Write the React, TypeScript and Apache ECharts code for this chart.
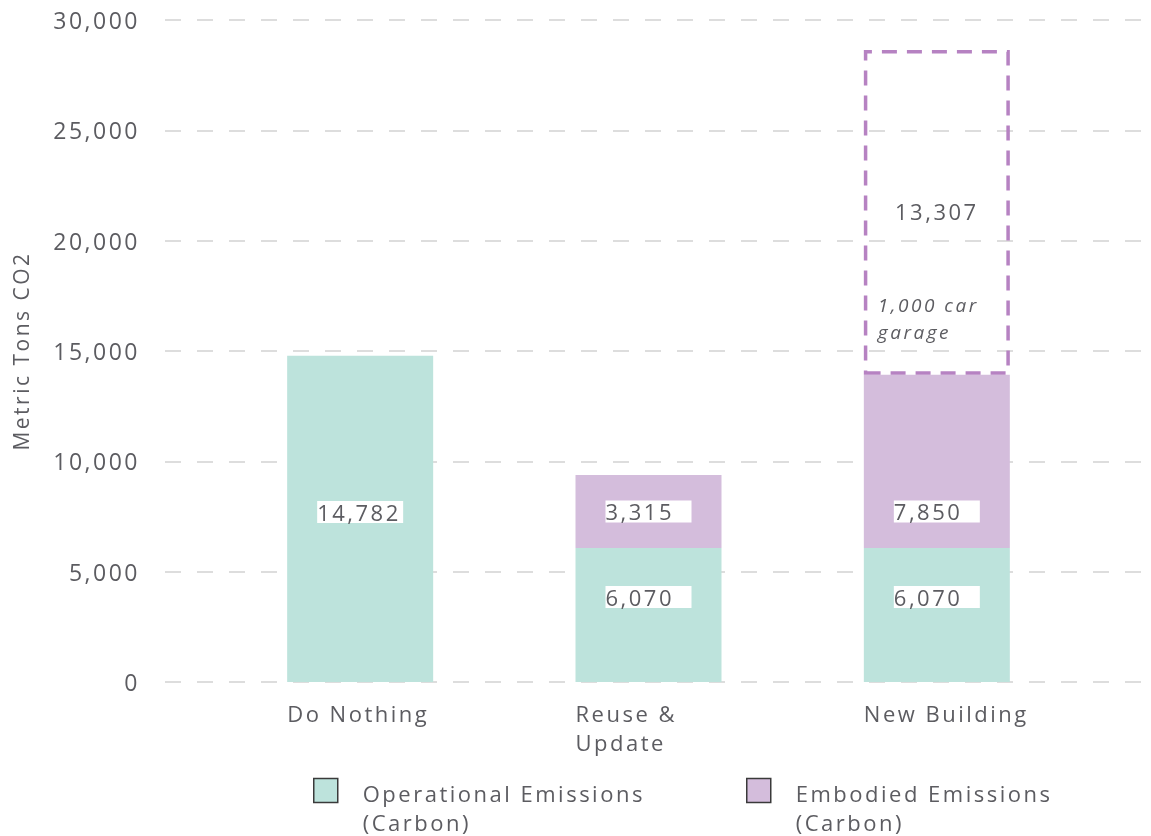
import React, { useEffect, useRef } from "react";
import * as echarts from "echarts";

const categories = ["Do Nothing", "Reuse &\nUpdate", "New Building"];
const operational = [14782, 6070, 6070];
const embodied: (number | null)[] = [null, 3315, 7850];
// height of the dashed "garage" box as drawn, and its printed label
const garageBox: (number | null)[] = [null, null, 14720];
const garageLabels = ["", "", "13,307"];
const garageNote = ["1,000 car", "garage"];
const yTicks = { min: 0, max: 30000, interval: 5000 };
const seriesNames = ["Operational Emissions (Carbon)", "Embodied Emissions (Carbon)"];

// label vertical nudges (px)
const opLabelOffsets = [-7, -18, -18];
const emLabelOffsets = [0, 0, 50];

const FONT = '"Open Sans", sans-serif';
const TEXT = "#5c5c61";
const fmt = (v: number) => v.toLocaleString("en-US");

export default function App() {
  const ref = useRef<HTMLDivElement>(null);
  useEffect(() => {
    const chart = echarts.init(ref.current!, null, { renderer: "svg" });
    const valueRich = {
      v: {
        width: 86,
        height: 22,
        lineHeight: 22,
        backgroundColor: "#ffffff",
        align: "left",
        fontSize: 22,
        color: TEXT,
        fontFamily: FONT,
      },
    };
    const legendCommon = (name: string, left: number) => ({
      data: [name],
      left,
      top: 745,
      padding: 0,
      icon: "rect",
      itemWidth: 24,
      itemHeight: 24,
      selectedMode: false,
      itemStyle: { borderColor: "#3a3a3a", borderWidth: 1.5 },
      formatter: (n: string) =>
        "{s| }\n" +
        n
          .replace(" (", "\n(")
          .split("\n")
          .map((l) => `{a|${l}}`)
          .join("\n"),
      textStyle: {
        fontSize: 22,
        lineHeight: 29,
        color: TEXT,
        fontFamily: FONT,
        padding: [0, 0, 0, 20],
        rich: {
          s: { lineHeight: 33, fontSize: 10 },
          a: { fontSize: 22, lineHeight: 29, color: TEXT, fontFamily: FONT },
        },
      },
    });
    chart.setOption({
      animation: false,
      textStyle: { fontFamily: FONT },
      grid: [
        { left: 165, right: 1, top: 20, bottom: 154 },
        { left: 216, right: 70, top: 20, bottom: 154 },
      ],
      legend: [legendCommon(seriesNames[0], 313), legendCommon(seriesNames[1], 746)],
      xAxis: [
        { type: "value", gridIndex: 0, show: false, min: 0, max: 1 },
        {
          type: "category",
          gridIndex: 1,
          data: categories,
          axisLine: { show: false },
          axisTick: { show: false },
          axisLabel: {
            margin: 16,
            formatter: (v: string) =>
              v
                .split("\n")
                .map((l) => `{t|${l}}`)
                .join("\n"),
            rich: {
              t: {
                width: 146,
                align: "left",
                fontSize: 22,
                lineHeight: 29,
                color: TEXT,
                fontFamily: FONT,
              },
            },
          },
        },
      ],
      yAxis: [
        {
          type: "value",
          gridIndex: 0,
          ...yTicks,
          name: "Metric Tons CO2",
          nameLocation: "middle",
          nameGap: 134,
          nameTextStyle: { fontSize: 21, color: TEXT, fontFamily: FONT },
          axisLine: { show: false },
          axisTick: { show: false },
          axisLabel: {
            fontSize: 23,
            color: TEXT,
            margin: 25,
            fontFamily: FONT,
            formatter: (v: number) => fmt(v),
          },
          splitLine: {
            show: true,
            lineStyle: { color: "#d2d2d2", width: 1.5, type: [16, 16] },
          },
        },
        { type: "value", gridIndex: 1, ...yTicks, show: false },
      ],
      series: [
        {
          name: seriesNames[0],
          type: "bar",
          stack: "total",
          xAxisIndex: 1,
          yAxisIndex: 1,
          barWidth: 146,
          itemStyle: { color: "#bde3dc" },
          label: {
            show: true,
            position: "inside",
            formatter: (p: any) => `{v|${fmt(p.value)}}`,
            rich: valueRich,
          },
          data: operational.map((v, i) => ({
            value: v,
            label: { offset: [0, opLabelOffsets[i]] },
          })),
        },
        {
          name: seriesNames[1],
          type: "bar",
          stack: "total",
          xAxisIndex: 1,
          yAxisIndex: 1,
          barWidth: 146,
          itemStyle: { color: "#d4bddc" },
          label: {
            show: true,
            position: "inside",
            formatter: (p: any) => (p.value == null ? "" : `{v|${fmt(p.value)}}`),
            rich: valueRich,
          },
          data: embodied.map((v, i) => ({
            value: v,
            label: { offset: [0, emLabelOffsets[i]] },
          })),
        },
        {
          name: "Garage",
          type: "bar",
          stack: "total",
          xAxisIndex: 1,
          yAxisIndex: 1,
          barWidth: 146,
          z: 5,
          itemStyle: {
            color: "rgba(0,0,0,0)",
            borderColor: "#b682c2",
            borderWidth: 3.5,
            borderType: [15, 10],
          },
          label: {
            show: true,
            position: "inside",
            offset: [0, 26],
            formatter: (p: any) =>
              `{v|${garageLabels[p.dataIndex]}}\n` +
              garageNote.map((l) => `{g|${l}}`).join("\n"),
            rich: {
              v: {
                width: 118,
                align: "center",
                lineHeight: 161,
                fontSize: 22,
                color: TEXT,
                fontFamily: FONT,
              },
              g: {
                width: 118,
                align: "left",
                lineHeight: 27,
                fontSize: 19,
                fontStyle: "italic",
                color: TEXT,
                fontFamily: FONT,
              },
            },
          },
          data: garageBox,
        },
      ],
    });
    return () => chart.dispose();
  }, []);
  return (
    <div
      ref={ref}
      style={{
        position: "fixed",
        left: 0,
        top: 0,
        width: 1151,
        height: 836,
        letterSpacing: "2.5px",
      }}
    />
  );
}
